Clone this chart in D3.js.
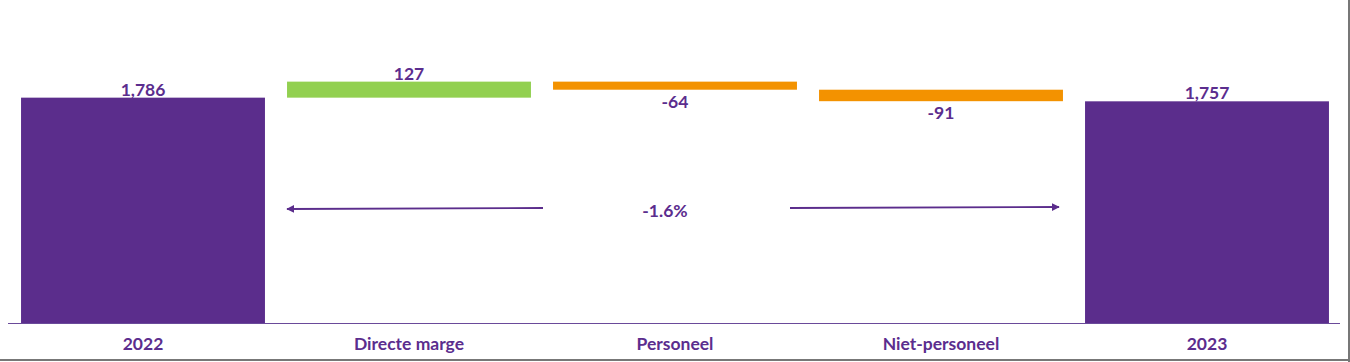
<!DOCTYPE html>
<html>
<head>
<meta charset="utf-8">
<script src="https://cdn.jsdelivr.net/npm/d3@7/dist/d3.min.js"></script>
<style>
  body { margin: 0; background: #fff; }
  text { font-family: Lato, "Open Sans", sans-serif; font-weight: 700; fill: #5b2d8e; }
</style>
</head>
<body>
<script>
// waterfall data
var categories = ["2022", "Directe marge", "Personeel", "Niet-personeel", "2023"];
var values = [1786, 127, -64, -91, 1757];
var kinds = ["total", "delta", "delta", "delta", "total"];
var labels = ["1,786", "127", "-64", "-91", "1,757"];
var changeLabel = "-1.6%";

var W = 1350, H = 362;
var svg = d3.select("body").append("svg").attr("width", W).attr("height", H);

var x = d3.scaleBand().domain(categories).range([10, 1340])
    .paddingInner(0.083).paddingOuter(0.0415);
var y = d3.scaleLinear().domain([0, 2560]).range([323, 0]);

// build start / end for each step
var run = 0;
var rows = categories.map(function (c, i) {
  var r;
  if (kinds[i] == "total") { r = {c: c, y0: 0, y1: values[i]}; run = values[i]; }
  else { r = {c: c, y0: run, y1: run + values[i]}; run += values[i]; }
  r.v = values[i]; r.kind = kinds[i]; r.label = labels[i];
  return r;
});

function color(d) {
  if (d.kind == "total") return "#5b2d8c";
  return d.v >= 0 ? "#92d050" : "#f39200";
}

svg.selectAll("rect.bar").data(rows).enter().append("rect")
  .attr("class", "bar")
  .attr("x", function (d) { return x(d.c); })
  .attr("width", x.bandwidth())
  .attr("y", function (d) { return y(Math.max(d.y0, d.y1)); })
  .attr("height", function (d) { return Math.max(Math.abs(y(d.y0) - y(d.y1)), 1); })
  .attr("fill", color);

// value labels: above for totals and rises, below for drops
svg.selectAll("text.val").data(rows).enter().append("text")
  .attr("class", "val")
  .attr("x", function (d) { return x(d.c) + x.bandwidth() / 2; })
  .attr("y", function (d) {
    if (d.kind == "delta" && d.v < 0) return y(Math.min(d.y0, d.y1)) + 18;
    return y(Math.max(d.y0, d.y1)) - 2;
  })
  .attr("text-anchor", "middle")
  .style("font-size", "17.5px")
  .text(function (d) { return d.label; });

// x axis
svg.append("line").attr("x1", 8).attr("x2", 1340).attr("y1", 323.5).attr("y2", 323.5)
  .attr("stroke", "#6a4a9a").attr("stroke-width", 1);

svg.selectAll("text.cat").data(categories).enter().append("text")
  .attr("class", "cat")
  .attr("x", function (c) { return x(c) + x.bandwidth() / 2; })
  .attr("y", 350)
  .attr("text-anchor", "middle")
  .style("font-size", "17.5px")
  .text(function (c) { return c; });

// change arrows between the two totals
svg.append("defs").append("marker").attr("id", "arr")
  .attr("viewBox", "0 0 10 10").attr("refX", 9).attr("refY", 5)
  .attr("markerWidth", 4.5).attr("markerHeight", 4.5).attr("orient", "auto")
  .append("path").attr("d", "M0,0L10,5L0,10z").attr("fill", "#5b2d8c");

var ay = 208;
var leftEnd = x(categories[1]), rightEnd = x(categories[3]) + x.bandwidth() - 4;
var mid = x(categories[2]) + x.bandwidth() / 2;
svg.append("line").attr("x1", mid - 132).attr("x2", leftEnd)
  .attr("y1", ay).attr("y2", ay + 1)
  .attr("stroke", "#5b2d8c").attr("stroke-width", 1.8).attr("marker-end", "url(#arr)");
svg.append("line").attr("x1", mid + 115).attr("x2", rightEnd)
  .attr("y1", ay).attr("y2", ay - 1)
  .attr("stroke", "#5b2d8c").attr("stroke-width", 1.8).attr("marker-end", "url(#arr)");
svg.append("text").attr("x", mid - 10).attr("y", 217).attr("text-anchor", "middle")
  .style("font-size", "17.5px").text(changeLabel);

// frame edges
svg.append("line").attr("x1", 0).attr("x2", W).attr("y1", 360).attr("y2", 360)
  .attr("stroke", "#777").attr("stroke-width", 2);
svg.append("line").attr("x1", 1349).attr("x2", 1349).attr("y1", 0).attr("y2", H)
  .attr("stroke", "#777").attr("stroke-width", 2);
</script>
</body>
</html>
